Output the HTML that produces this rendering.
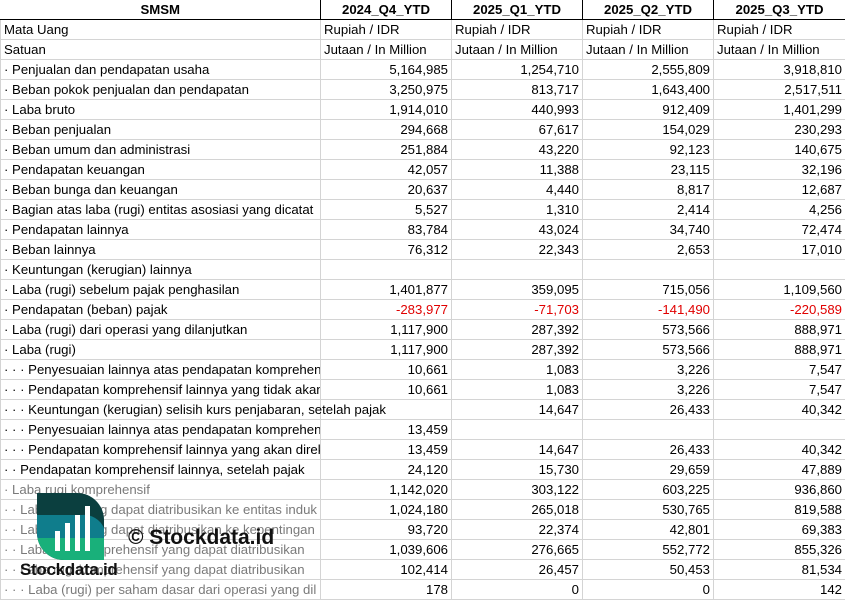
<!DOCTYPE html>
<html><head><meta charset="utf-8"><style>
body{margin:0;width:845px;height:601px;background:#fff;overflow:hidden;position:relative;font-family:"Liberation Sans",sans-serif;}
table{border-collapse:collapse;table-layout:fixed;position:absolute;left:0;top:0;width:845px;}
td{height:19px;padding:0 3px;border:1px solid #d4d4d4;font-size:13.2px;white-space:nowrap;overflow:hidden;color:#000;line-height:19px;}
td.n{text-align:right;}
tr.h td{font-weight:bold;text-align:center;border:1px solid #000;border-top:none;}
tr.h td:first-child{border-left:none;}
.r{color:#e00000;}
.g td:first-child{color:#7a7a7a;}
</style></head><body>
<table>
<colgroup><col style="width:320px"><col style="width:131px"><col style="width:131px"><col style="width:131px"><col style="width:132px"></colgroup>
<tr class="h"><td>SMSM</td><td>2024_Q4_YTD</td><td>2025_Q1_YTD</td><td>2025_Q2_YTD</td><td>2025_Q3_YTD</td></tr>
<tr><td>Mata Uang</td><td>Rupiah / IDR</td><td>Rupiah / IDR</td><td>Rupiah / IDR</td><td>Rupiah / IDR</td></tr>
<tr><td>Satuan</td><td>Jutaan / In Million</td><td>Jutaan / In Million</td><td>Jutaan / In Million</td><td>Jutaan / In Million</td></tr>
<tr><td>· Penjualan dan pendapatan usaha</td><td class="n">5,164,985</td><td class="n">1,254,710</td><td class="n">2,555,809</td><td class="n">3,918,810</td></tr>
<tr><td>· Beban pokok penjualan dan pendapatan</td><td class="n">3,250,975</td><td class="n">813,717</td><td class="n">1,643,400</td><td class="n">2,517,511</td></tr>
<tr><td>· Laba bruto</td><td class="n">1,914,010</td><td class="n">440,993</td><td class="n">912,409</td><td class="n">1,401,299</td></tr>
<tr><td>· Beban penjualan</td><td class="n">294,668</td><td class="n">67,617</td><td class="n">154,029</td><td class="n">230,293</td></tr>
<tr><td>· Beban umum dan administrasi</td><td class="n">251,884</td><td class="n">43,220</td><td class="n">92,123</td><td class="n">140,675</td></tr>
<tr><td>· Pendapatan keuangan</td><td class="n">42,057</td><td class="n">11,388</td><td class="n">23,115</td><td class="n">32,196</td></tr>
<tr><td>· Beban bunga dan keuangan</td><td class="n">20,637</td><td class="n">4,440</td><td class="n">8,817</td><td class="n">12,687</td></tr>
<tr><td>· Bagian atas laba (rugi) entitas asosiasi yang dicatat</td><td class="n">5,527</td><td class="n">1,310</td><td class="n">2,414</td><td class="n">4,256</td></tr>
<tr><td>· Pendapatan lainnya</td><td class="n">83,784</td><td class="n">43,024</td><td class="n">34,740</td><td class="n">72,474</td></tr>
<tr><td>· Beban lainnya</td><td class="n">76,312</td><td class="n">22,343</td><td class="n">2,653</td><td class="n">17,010</td></tr>
<tr><td>· Keuntungan (kerugian) lainnya</td><td></td><td></td><td></td><td></td></tr>
<tr><td>· Laba (rugi) sebelum pajak penghasilan</td><td class="n">1,401,877</td><td class="n">359,095</td><td class="n">715,056</td><td class="n">1,109,560</td></tr>
<tr><td>· Pendapatan (beban) pajak</td><td class="n r">-283,977</td><td class="n r">-71,703</td><td class="n r">-141,490</td><td class="n r">-220,589</td></tr>
<tr><td>· Laba (rugi) dari operasi yang dilanjutkan</td><td class="n">1,117,900</td><td class="n">287,392</td><td class="n">573,566</td><td class="n">888,971</td></tr>
<tr><td>· Laba (rugi)</td><td class="n">1,117,900</td><td class="n">287,392</td><td class="n">573,566</td><td class="n">888,971</td></tr>
<tr><td>· · · Penyesuaian lainnya atas pendapatan komprehensif</td><td class="n">10,661</td><td class="n">1,083</td><td class="n">3,226</td><td class="n">7,547</td></tr>
<tr><td>· · · Pendapatan komprehensif lainnya yang tidak akan</td><td class="n">10,661</td><td class="n">1,083</td><td class="n">3,226</td><td class="n">7,547</td></tr>
<tr><td style="overflow:visible;position:relative;z-index:2">· · · Keuntungan (kerugian) selisih kurs penjabaran, setelah pajak</td><td class="n">&nbsp;</td><td class="n">14,647</td><td class="n">26,433</td><td class="n">40,342</td></tr>
<tr><td>· · · Penyesuaian lainnya atas pendapatan komprehensif</td><td class="n">13,459</td><td></td><td></td><td></td></tr>
<tr><td>· · · Pendapatan komprehensif lainnya yang akan direklasifikasi</td><td class="n">13,459</td><td class="n">14,647</td><td class="n">26,433</td><td class="n">40,342</td></tr>
<tr><td>· · Pendapatan komprehensif lainnya, setelah pajak</td><td class="n">24,120</td><td class="n">15,730</td><td class="n">29,659</td><td class="n">47,889</td></tr>
<tr class="g"><td>· Laba rugi komprehensif</td><td class="n">1,142,020</td><td class="n">303,122</td><td class="n">603,225</td><td class="n">936,860</td></tr>
<tr class="g"><td>· · Laba rugi yang dapat diatribusikan ke entitas induk</td><td class="n">1,024,180</td><td class="n">265,018</td><td class="n">530,765</td><td class="n">819,588</td></tr>
<tr class="g"><td>· · Laba rugi yang dapat diatribusikan ke kepentingan</td><td class="n">93,720</td><td class="n">22,374</td><td class="n">42,801</td><td class="n">69,383</td></tr>
<tr class="g"><td>· · Laba rugi komprehensif yang dapat diatribusikan</td><td class="n">1,039,606</td><td class="n">276,665</td><td class="n">552,772</td><td class="n">855,326</td></tr>
<tr class="g"><td>· · Laba rugi komprehensif yang dapat diatribusikan</td><td class="n">102,414</td><td class="n">26,457</td><td class="n">50,453</td><td class="n">81,534</td></tr>
<tr class="g"><td>· · · Laba (rugi) per saham dasar dari operasi yang dil</td><td class="n">178</td><td class="n">0</td><td class="n">0</td><td class="n">142</td></tr>
</table>
<svg style="position:absolute;left:37px;top:493px" width="67" height="67" viewBox="0 0 67 67">
<defs><clipPath id="c"><path d="M0 0 H40 A27 27 0 0 1 67 27 V67 H27 A27 27 0 0 1 0 40 Z"/></clipPath></defs>
<g clip-path="url(#c)">
<rect width="67" height="67" fill="#0b3f3f"/>
<path d="M0 22 H45 A22 22 0 0 1 67 35 V45 H0Z" fill="#0f7d8c"/>
<rect y="45" width="67" height="22" fill="#19b07a"/>
</g>
<rect x="18" y="38" width="5" height="20" fill="#fff"/><rect x="28" y="30" width="5" height="28" fill="#fff"/><rect x="38" y="22" width="5" height="36" fill="#fff"/><rect x="48" y="13" width="5" height="45" fill="#fff"/>
</svg>
<div style="position:absolute;left:20px;top:560px;font-weight:bold;font-size:17px;color:#111;letter-spacing:-0.3px">Stockdata.id</div>
<div style="position:absolute;left:128px;top:526px;font-weight:bold;font-size:21px;color:#111">© Stockdata.id</div>
</body></html>
